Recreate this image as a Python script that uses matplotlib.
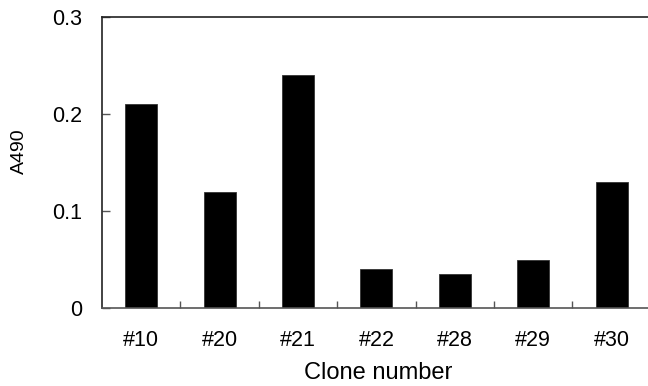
import numpy as np
import matplotlib
matplotlib.use("Agg")
import matplotlib.pyplot as plt

plt.rcParams['font.family'] = ['Liberation Sans', 'DejaVu Sans']

# 클론별 흡광도 (A490)
clones = ['#10', '#20', '#21', '#22', '#28', '#29', '#30']
a490 = [0.21, 0.12, 0.24, 0.04, 0.035, 0.05, 0.13]
y_ticks = [0, 0.1, 0.2, 0.3]
y_tick_labels = ['0', '0.1', '0.2', '0.3']

x = np.arange(len(clones))

fig = plt.figure(figsize=(6.48, 3.86), dpi=100)
ax = fig.add_axes([0.1574, 0.202, 0.847, 0.754])

ax.bar(x, a490, width=0.41, color='black', edgecolor='#333333', linewidth=0.6)

ax.set_xlim(-0.5, len(clones) - 0.5)
ax.set_ylim(0, 0.3)

# 레이블은 막대 중앙, 눈금선은 막대 사이 경계
ax.set_xticks(x)
ax.set_xticklabels(clones, fontsize=15.5)
ax.set_xticks(x[:-1] + 0.5, minor=True)
ax.tick_params(axis='x', which='major', length=0, pad=16)
ax.tick_params(axis='x', which='minor', direction='in', length=5,
               width=1.0, color='#555555')

ax.set_yticks(y_ticks)
ax.set_yticklabels(y_tick_labels, fontsize=15.5)
ax.tick_params(axis='y', direction='in', length=6, width=1.0,
               color='#555555', pad=14)

ax.spines['right'].set_visible(False)
ax.spines['left'].set_color('#222222')
ax.spines['top'].set_color('#222222')
ax.spines['bottom'].set_color('#555555')
for s in ('left', 'top', 'bottom'):
    ax.spines[s].set_linewidth(1.2)

ax.set_xlabel('Clone number', fontsize=17)
ax.xaxis.set_label_coords(0.503, -0.185)
ax.set_ylabel('A490', fontsize=14)
ax.yaxis.set_label_coords(-0.135, 0.54)

fig.savefig('out.png', dpi=100)
